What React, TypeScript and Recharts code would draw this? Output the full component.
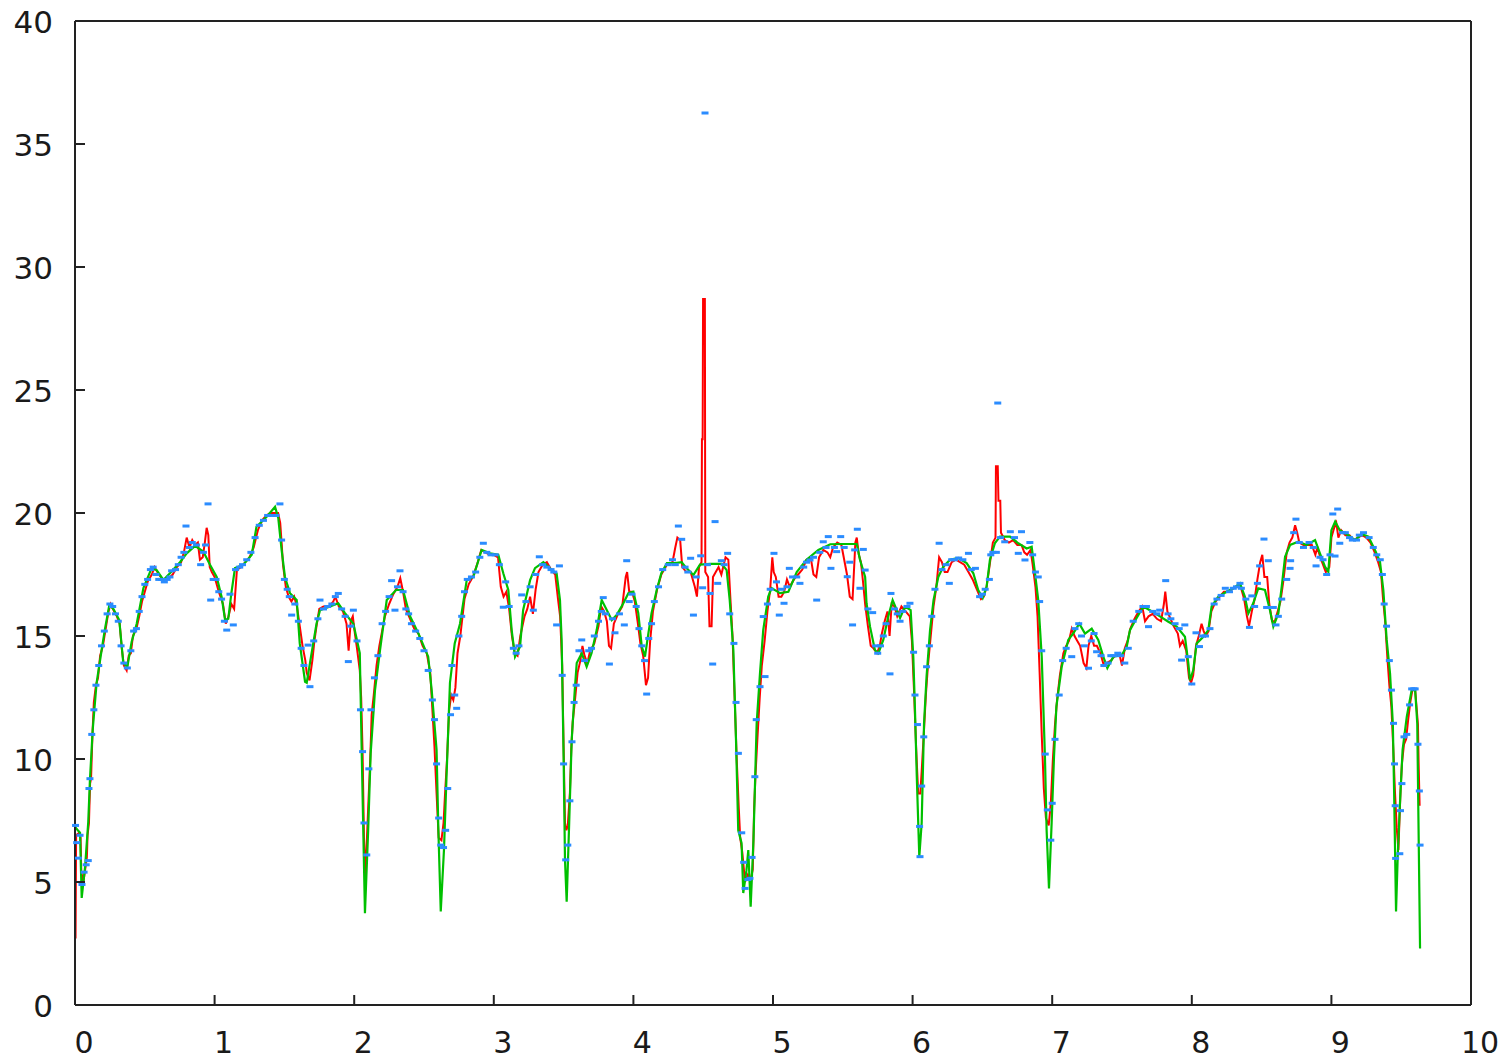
import React from 'react';
import { ComposedChart, Line, Scatter, XAxis, YAxis } from 'recharts';

// [x, y] samples
const red: [number, number][] = [
  [0, 7.3], [0.004, 2.7], [0.008, 6.9], [0.03, 7.0], [0.04, 6.8], [0.045, 5.4], [0.06, 5.0], [0.075, 5.6], [0.085, 6.0], [0.09, 6.9],
  [0.1, 7.4], [0.108, 9.0], [0.115, 9.2], [0.125, 11.0], [0.135, 12.3], [0.15, 13.0], [0.165, 13.3], [0.18, 14.2], [0.2, 14.6], [0.22, 15.3],
  [0.24, 16.0], [0.255, 16.3], [0.28, 16.0], [0.3, 15.8], [0.32, 15.5], [0.335, 14.5], [0.35, 13.8], [0.37, 13.6], [0.385, 14.2], [0.4, 14.3],
  [0.415, 15.0], [0.44, 15.3], [0.46, 15.8], [0.48, 16.4], [0.5, 16.8], [0.52, 17.2], [0.55, 17.5], [0.57, 17.8], [0.6, 17.5], [0.63, 17.3],
  [0.66, 17.3], [0.7, 17.5], [0.73, 17.8], [0.76, 18.0], [0.78, 18.4], [0.8, 19.0], [0.82, 18.6], [0.84, 18.9], [0.86, 18.7], [0.88, 18.8],
  [0.895, 18.1], [0.915, 18.2], [0.93, 18.8], [0.943, 19.4], [0.955, 19.1], [0.965, 17.8], [0.98, 17.6], [1.0, 17.4], [1.03, 16.8], [1.06, 16.3],
  [1.08, 15.5], [1.1, 15.8], [1.12, 16.3], [1.14, 16.1], [1.16, 17.7], [1.19, 17.8], [1.22, 18.0], [1.25, 18.2], [1.28, 18.6], [1.31, 19.3],
  [1.34, 19.7], [1.37, 19.9], [1.4, 20.0], [1.43, 20.0], [1.455, 20.0], [1.47, 19.6], [1.48, 18.8], [1.49, 17.9], [1.51, 17.0], [1.53, 16.6],
  [1.55, 16.4], [1.57, 16.6], [1.59, 16.2], [1.61, 15.4], [1.63, 14.6], [1.65, 14.0], [1.66, 13.5], [1.68, 13.2], [1.7, 14.0], [1.715, 14.8],
  [1.73, 15.4], [1.75, 16.1], [1.78, 16.2], [1.82, 16.2], [1.85, 16.4], [1.865, 16.6], [1.89, 16.2], [1.92, 16.0], [1.945, 15.5], [1.96, 14.4],
  [1.975, 15.6], [1.99, 15.8], [2.005, 15.1], [2.02, 14.5], [2.04, 13.6], [2.05, 12.5], [2.06, 10.3], [2.07, 6.8], [2.08, 5.2], [2.09, 6.6],
  [2.1, 8.0], [2.115, 10.0], [2.125, 11.8], [2.14, 12.6], [2.16, 13.8], [2.18, 14.6], [2.2, 15.2], [2.22, 15.8], [2.25, 16.3], [2.28, 16.7],
  [2.31, 17.0], [2.33, 17.35], [2.35, 16.8], [2.37, 16.1], [2.4, 15.7], [2.43, 15.3], [2.46, 15.1], [2.49, 14.6], [2.52, 14.3], [2.545, 13.5],
  [2.56, 12.0], [2.575, 10.5], [2.59, 8.6], [2.605, 6.8], [2.625, 6.7], [2.64, 7.4], [2.65, 8.5], [2.665, 10.0], [2.68, 12.0], [2.695, 12.6],
  [2.71, 12.4], [2.725, 12.9], [2.74, 14.3], [2.76, 15.0], [2.79, 16.5], [2.82, 17.1], [2.85, 17.4], [2.88, 17.9], [2.91, 18.5], [2.94, 18.4],
  [2.97, 18.3], [3.0, 18.3], [3.03, 18.2], [3.05, 17.0], [3.07, 16.6], [3.09, 16.8], [3.11, 16.1], [3.13, 15.0], [3.15, 14.3], [3.17, 14.2],
  [3.19, 15.0], [3.22, 15.8], [3.24, 16.1], [3.26, 16.6], [3.28, 15.9], [3.3, 16.9], [3.32, 17.6], [3.35, 17.9], [3.38, 18.0], [3.41, 17.7],
  [3.44, 17.5], [3.46, 16.5], [3.475, 15.8], [3.49, 13.8], [3.5, 10.5], [3.51, 7.4], [3.52, 7.1], [3.53, 7.3], [3.545, 8.6], [3.555, 10.4],
  [3.565, 11.5], [3.58, 12.3], [3.6, 13.5], [3.62, 14.0], [3.635, 14.6], [3.65, 14.2], [3.67, 13.9], [3.69, 14.4], [3.72, 14.7], [3.75, 15.4],
  [3.77, 16.2], [3.79, 16.0], [3.81, 15.6], [3.825, 14.6], [3.84, 14.5], [3.86, 15.5], [3.89, 15.9], [3.92, 16.2], [3.945, 17.4], [3.955, 17.6],
  [3.97, 16.8], [3.99, 16.8], [4.01, 16.4], [4.03, 15.6], [4.05, 14.7], [4.07, 14.2], [4.09, 13.0], [4.105, 13.3], [4.12, 14.8], [4.14, 16.0],
  [4.17, 16.9], [4.2, 17.5], [4.24, 17.9], [4.28, 18.0], [4.3, 18.6], [4.315, 19.0], [4.335, 18.9], [4.35, 17.8], [4.38, 17.6], [4.41, 17.6],
  [4.44, 17.0], [4.455, 16.6], [4.47, 17.8], [4.488, 18.0], [4.491, 23.0], [4.496, 23.0], [4.499, 28.7], [4.512, 28.7], [4.515, 17.6], [4.535, 17.4],
  [4.545, 15.4], [4.56, 15.4], [4.57, 17.4], [4.59, 17.6], [4.61, 17.8], [4.63, 17.5], [4.66, 18.2], [4.68, 18.1], [4.695, 16.5], [4.71, 15.0],
  [4.725, 12.5], [4.74, 10.0], [4.755, 8.0], [4.765, 6.8], [4.78, 6.2], [4.8, 5.0], [4.82, 5.3], [4.84, 5.1], [4.855, 5.5], [4.865, 8.0],
  [4.875, 9.4], [4.89, 11.0], [4.905, 12.5], [4.92, 13.8], [4.94, 14.8], [4.96, 16.0], [4.98, 16.9], [4.995, 18.2], [5.005, 17.6], [5.02, 17.4],
  [5.04, 16.6], [5.06, 16.6], [5.08, 16.8], [5.1, 17.3], [5.12, 17.0], [5.15, 17.3], [5.18, 17.5], [5.21, 17.7], [5.24, 18.1], [5.27, 18.2],
  [5.29, 17.5], [5.31, 17.4], [5.33, 18.2], [5.36, 18.5], [5.39, 18.4], [5.41, 18.2], [5.43, 18.6], [5.46, 18.8], [5.49, 18.7], [5.51, 18.1],
  [5.53, 17.5], [5.55, 16.6], [5.57, 16.5], [5.59, 18.8], [5.6, 19.0], [5.615, 18.3], [5.63, 18.0], [5.645, 17.2], [5.66, 16.3], [5.68, 15.4],
  [5.7, 14.6], [5.72, 14.5], [5.745, 14.3], [5.765, 14.6], [5.78, 15.1], [5.8, 15.6], [5.82, 16.0], [5.835, 15.0], [5.85, 16.3], [5.87, 16.2],
  [5.89, 15.8], [5.92, 16.2], [5.95, 16.0], [5.98, 15.8], [5.995, 14.8], [6.01, 12.8], [6.025, 10.5], [6.04, 8.6], [6.055, 8.6], [6.065, 9.5],
  [6.08, 11.0], [6.095, 12.6], [6.11, 13.8], [6.13, 15.0], [6.15, 16.2], [6.17, 17.0], [6.19, 18.2], [6.21, 18.0], [6.23, 17.6], [6.25, 17.6],
  [6.28, 18.0], [6.31, 18.1], [6.34, 18.0], [6.37, 17.9], [6.4, 17.6], [6.43, 17.3], [6.46, 16.9], [6.49, 16.5], [6.51, 16.6], [6.53, 17.0],
  [6.555, 18.0], [6.575, 18.8], [6.594, 19.0], [6.597, 21.9], [6.61, 21.9], [6.615, 20.5], [6.628, 20.5], [6.633, 19.2], [6.66, 18.9], [6.69, 18.8], [6.72, 18.9],
  [6.75, 18.7], [6.78, 18.7], [6.8, 18.4], [6.82, 18.3], [6.845, 18.5], [6.86, 17.9], [6.88, 17.0], [6.895, 15.8], [6.91, 13.5], [6.925, 11.0],
  [6.94, 8.8], [6.955, 7.6], [6.975, 7.3], [6.99, 8.2], [7.005, 10.0], [7.02, 11.4], [7.035, 12.4], [7.055, 13.4], [7.08, 14.3], [7.1, 14.6],
  [7.12, 14.8], [7.14, 15.3], [7.16, 15.0], [7.18, 14.8], [7.2, 14.6], [7.225, 13.9], [7.245, 13.7], [7.26, 14.6], [7.28, 15.0], [7.3, 14.6],
  [7.32, 14.6], [7.345, 14.3], [7.37, 13.8], [7.39, 13.9], [7.42, 14.0], [7.45, 14.2], [7.48, 14.3], [7.5, 13.8], [7.52, 14.5], [7.54, 14.8],
  [7.56, 15.3], [7.59, 15.7], [7.62, 16.0], [7.645, 16.2], [7.665, 15.6], [7.69, 15.8], [7.72, 15.9], [7.75, 15.7], [7.78, 15.6], [7.8, 16.3],
  [7.81, 16.8], [7.825, 16.0], [7.84, 15.8], [7.87, 15.4], [7.9, 15.1], [7.915, 14.6], [7.935, 14.8], [7.96, 14.4], [7.98, 13.3], [7.995, 13.1],
  [8.01, 13.4], [8.03, 14.6], [8.05, 15.0], [8.07, 15.5], [8.085, 15.2], [8.1, 15.0], [8.12, 15.2], [8.14, 16.0], [8.17, 16.4], [8.2, 16.6],
  [8.23, 16.8], [8.26, 16.8], [8.29, 16.9], [8.32, 17.0], [8.35, 17.0], [8.375, 16.5], [8.395, 15.8], [8.41, 15.4], [8.43, 16.0], [8.45, 16.5],
  [8.47, 17.3], [8.49, 18.0], [8.505, 18.3], [8.52, 17.4], [8.54, 17.4], [8.555, 16.3], [8.575, 15.6], [8.595, 15.6], [8.615, 16.0], [8.635, 16.4],
  [8.655, 17.2], [8.68, 18.4], [8.7, 18.8], [8.72, 19.0], [8.74, 19.5], [8.755, 19.2], [8.77, 18.8], [8.8, 18.7], [8.83, 18.7], [8.86, 18.7],
  [8.885, 18.3], [8.9, 18.6], [8.92, 18.2], [8.94, 17.9], [8.96, 17.6], [8.985, 17.8], [9.0, 19.0], [9.02, 19.4], [9.035, 19.6], [9.05, 19.0],
  [9.07, 19.3], [9.1, 19.1], [9.13, 19.1], [9.16, 18.9], [9.19, 19.0], [9.22, 19.1], [9.25, 19.0], [9.28, 18.8], [9.31, 18.4], [9.335, 18.0],
  [9.355, 17.6], [9.37, 16.5], [9.385, 15.6], [9.4, 14.2], [9.415, 13.0], [9.43, 12.1], [9.445, 10.2], [9.455, 8.7], [9.468, 7.2], [9.48, 6.3],
  [9.495, 8.7], [9.505, 9.8], [9.52, 10.6], [9.535, 10.8], [9.55, 11.6], [9.565, 12.3], [9.58, 12.8], [9.6, 12.8], [9.61, 12.1], [9.62, 11.4],
  [9.625, 9.8], [9.632, 8.1],
];

const green: [number, number][] = [
  [0, 7.25], [0.02, 7.1], [0.036, 7.0], [0.048, 4.35], [0.072, 5.6], [0.095, 7.45], [0.107, 9.15], [0.127, 11.2], [0.143, 12.3], [0.155, 13.1],
  [0.19, 14.4], [0.215, 15.3], [0.246, 16.26], [0.275, 16.1], [0.317, 15.65], [0.346, 13.9], [0.375, 13.75], [0.406, 14.77], [0.442, 15.5], [0.49, 16.95],
  [0.549, 17.76], [0.585, 17.68], [0.633, 17.28], [0.68, 17.55], [0.752, 18.0], [0.8, 18.36], [0.86, 18.66], [0.919, 18.43], [0.967, 17.9], [1.015, 17.4],
  [1.05, 16.6], [1.075, 15.65], [1.098, 15.7], [1.12, 16.73], [1.146, 17.76], [1.206, 17.9], [1.266, 18.3], [1.3, 19.44], [1.373, 19.85], [1.433, 20.25],
  [1.456, 19.8], [1.48, 18.5], [1.504, 17.4], [1.54, 16.74], [1.588, 16.46], [1.61, 14.7], [1.648, 13.14], [1.66, 13.1], [1.683, 13.9], [1.73, 15.5],
  [1.755, 16.05], [1.827, 16.2], [1.886, 16.33], [1.934, 15.93], [1.994, 15.5], [2.04, 14.3], [2.054, 10.24], [2.077, 3.73], [2.1, 7.1], [2.118, 10.24],
  [2.149, 12.8], [2.185, 14.43], [2.233, 16.46], [2.3, 16.87], [2.35, 16.87], [2.4, 15.8], [2.46, 15.1], [2.53, 14.16], [2.555, 12.8], [2.59, 10.37],
  [2.603, 7.1], [2.62, 3.8], [2.643, 6.3], [2.663, 9.55], [2.686, 13.1], [2.72, 14.7], [2.758, 15.5], [2.806, 17.27], [2.853, 17.4], [2.913, 18.5],
  [2.973, 18.36], [3.032, 18.3], [3.068, 17.55], [3.104, 16.87], [3.128, 15.24], [3.152, 14.16], [3.188, 14.57], [3.21, 16.05], [3.26, 17.27], [3.295, 17.76],
  [3.355, 18.0], [3.415, 17.68], [3.45, 17.55], [3.474, 16.46], [3.486, 14.84], [3.5, 10.1], [3.51, 5.9], [3.522, 4.2], [3.54, 7.4], [3.558, 10.77],
  [3.58, 12.8], [3.594, 13.9], [3.63, 14.3], [3.665, 13.75], [3.7, 14.3], [3.737, 15.24], [3.773, 16.46], [3.81, 16.05], [3.845, 15.65], [3.88, 15.85],
  [3.928, 16.33], [3.964, 16.74], [4.0, 16.8], [4.035, 15.93], [4.06, 14.57], [4.083, 14.16], [4.107, 15.1], [4.13, 15.93], [4.167, 16.87], [4.2, 17.55],
  [4.24, 17.96], [4.298, 17.96], [4.346, 18.0], [4.38, 17.76], [4.43, 17.48], [4.477, 17.9], [4.549, 17.93], [4.633, 17.93], [4.668, 17.68], [4.69, 16.46],
  [4.716, 14.43], [4.735, 10.77], [4.751, 7.1], [4.775, 6.58], [4.787, 4.55], [4.81, 5.48], [4.823, 6.3], [4.84, 4.0], [4.86, 6.7], [4.883, 11.45],
  [4.907, 13.5], [4.93, 15.24], [4.966, 16.6], [4.99, 16.95], [5.05, 16.74], [5.11, 16.8], [5.17, 17.6], [5.24, 18.1], [5.325, 18.5], [5.41, 18.73],
  [5.5, 18.74], [5.6, 18.74], [5.623, 18.1], [5.66, 17.4], [5.67, 16.33], [5.695, 15.38], [5.73, 14.43], [5.755, 14.3], [5.79, 14.84], [5.826, 15.8],
  [5.857, 16.46], [5.91, 15.73], [5.946, 16.2], [5.986, 16.05], [6.005, 14.16], [6.017, 12.0], [6.03, 9.28], [6.048, 6.03], [6.065, 7.4], [6.082, 11.45],
  [6.1, 13.35], [6.125, 15.24], [6.15, 16.46], [6.184, 17.4], [6.22, 17.82], [6.268, 18.1], [6.327, 18.17], [6.387, 17.96], [6.435, 17.55], [6.47, 16.87],
  [6.502, 16.54], [6.53, 17.0], [6.554, 18.1], [6.59, 18.78], [6.626, 19.04], [6.65, 19.04], [6.698, 19.04], [6.757, 18.77], [6.817, 18.56], [6.853, 18.63],
  [6.877, 17.55], [6.9, 16.46], [6.925, 14.16], [6.948, 10.1], [6.96, 7.1], [6.977, 4.74], [6.996, 7.4], [7.013, 10.1], [7.03, 12.13], [7.068, 13.75],
  [7.115, 14.84], [7.15, 15.1], [7.194, 15.5], [7.235, 15.1], [7.283, 15.3], [7.33, 14.84], [7.366, 14.16], [7.395, 13.7], [7.438, 14.16], [7.498, 14.23],
  [7.534, 14.57], [7.557, 15.24], [7.605, 15.73], [7.653, 16.2], [7.7, 16.05], [7.772, 15.8], [7.832, 15.58], [7.892, 15.38], [7.951, 14.97], [7.975, 13.9],
  [7.987, 13.2], [8.01, 13.6], [8.035, 14.7], [8.083, 14.97], [8.118, 15.24], [8.142, 16.2], [8.19, 16.6], [8.25, 16.8], [8.297, 16.94], [8.345, 17.14],
  [8.38, 16.6], [8.405, 15.92], [8.44, 16.33], [8.476, 16.94], [8.524, 16.87], [8.56, 16.05], [8.584, 15.38], [8.62, 15.92], [8.644, 17.0], [8.668, 18.22],
  [8.704, 18.7], [8.763, 18.83], [8.823, 18.7], [8.883, 18.9], [8.918, 18.36], [8.954, 17.82], [8.978, 17.61], [9.0, 19.3], [9.027, 19.65], [9.06, 19.3],
  [9.12, 19.1], [9.17, 18.9], [9.217, 19.15], [9.265, 19.04], [9.312, 18.5], [9.348, 18.02], [9.372, 16.87], [9.396, 14.84], [9.42, 13.48], [9.44, 11.45],
  [9.449, 8.74], [9.463, 3.8], [9.475, 6.03], [9.49, 8.06], [9.51, 10.37], [9.54, 11.72], [9.575, 12.8], [9.6, 12.8], [9.615, 11.45], [9.635, 2.3],
];

const blue: [number, number][] = [
  [0.004, 7.3], [0.012, 6.6], [0.024, 5.97], [0.036, 6.9], [0.05, 4.9], [0.065, 5.4], [0.08, 5.7], [0.095, 5.87], [0.1, 8.8], [0.107, 9.2],
  [0.12, 11.0], [0.135, 12.0], [0.15, 13.0], [0.17, 13.8], [0.19, 14.6], [0.21, 15.2], [0.23, 15.9], [0.25, 16.3], [0.27, 16.2], [0.29, 15.9],
  [0.31, 15.6], [0.33, 14.6], [0.35, 13.9], [0.375, 13.7], [0.4, 14.4], [0.42, 15.2], [0.44, 15.3], [0.46, 16.0], [0.48, 16.6], [0.5, 17.1],
  [0.52, 17.3], [0.54, 17.7], [0.56, 17.8], [0.58, 17.5], [0.6, 17.3], [0.62, 17.3], [0.64, 17.2], [0.66, 17.3], [0.68, 17.4], [0.692, 17.65],
  [0.72, 17.7], [0.74, 17.9], [0.76, 18.2], [0.78, 18.4], [0.795, 19.47], [0.82, 18.6], [0.84, 18.8], [0.87, 18.7], [0.9, 17.9], [0.92, 18.4],
  [0.935, 18.7], [0.953, 20.37], [0.972, 16.46], [0.99, 17.3], [1.01, 17.3], [1.03, 16.8], [1.05, 16.5], [1.07, 15.6], [1.087, 15.24], [1.11, 16.7],
  [1.134, 15.45], [1.15, 17.7], [1.18, 17.8], [1.2, 17.9], [1.23, 18.1], [1.26, 18.4], [1.29, 19.0], [1.32, 19.5], [1.35, 19.7], [1.38, 19.9],
  [1.41, 19.9], [1.44, 19.9], [1.468, 20.37], [1.48, 18.9], [1.5, 17.3], [1.52, 16.9], [1.535, 16.6], [1.552, 15.85], [1.575, 16.3], [1.6, 15.6],
  [1.62, 14.5], [1.64, 13.8], [1.67, 14.63], [1.683, 12.94], [1.71, 14.8], [1.74, 15.7], [1.755, 16.46], [1.78, 16.1], [1.81, 16.2], [1.84, 16.3],
  [1.865, 16.6], [1.886, 16.73], [1.91, 16.1], [1.935, 15.8], [1.958, 13.96], [1.975, 15.4], [1.994, 16.05], [2.02, 14.8], [2.045, 12.0], [2.06, 10.3],
  [2.07, 7.4], [2.09, 6.1], [2.105, 9.6], [2.12, 12.0], [2.145, 13.3], [2.17, 14.2], [2.2, 15.5], [2.225, 16.0], [2.25, 16.6], [2.268, 17.25],
  [2.292, 16.05], [2.31, 17.0], [2.328, 17.65], [2.35, 16.8], [2.37, 16.1], [2.39, 15.9], [2.41, 15.5], [2.44, 15.2], [2.47, 14.9], [2.5, 14.4],
  [2.53, 13.6], [2.56, 12.4], [2.575, 11.6], [2.59, 9.8], [2.605, 7.6], [2.62, 6.5], [2.64, 6.4], [2.655, 7.1], [2.67, 8.8], [2.69, 11.8],
  [2.7, 13.8], [2.72, 12.6], [2.734, 12.06], [2.75, 15.0], [2.77, 15.8], [2.79, 16.8], [2.81, 17.3], [2.84, 17.4], [2.87, 17.6], [2.9, 18.2],
  [2.925, 18.77], [2.95, 18.4], [2.98, 18.3], [3.01, 18.3], [3.04, 17.9], [3.068, 16.17], [3.085, 17.2], [3.11, 16.2], [3.14, 14.5], [3.16, 14.3],
  [3.18, 14.6], [3.2, 16.67], [3.23, 16.4], [3.26, 17.0], [3.283, 16.05], [3.3, 17.5], [3.326, 18.22], [3.35, 17.9], [3.38, 17.8], [3.41, 17.7],
  [3.43, 17.6], [3.45, 15.45], [3.47, 17.85], [3.49, 13.4], [3.5, 9.8], [3.515, 5.9], [3.53, 6.5], [3.545, 8.3], [3.56, 10.7], [3.575, 12.3],
  [3.59, 13.0], [3.61, 14.4], [3.63, 14.84], [3.65, 14.0], [3.68, 14.4], [3.7, 14.5], [3.72, 15.0], [3.75, 15.6], [3.77, 16.0], [3.784, 16.56],
  [3.8, 15.9], [3.828, 13.86], [3.85, 15.7], [3.868, 15.13], [3.9, 15.9], [3.935, 15.45], [3.952, 18.06], [3.97, 16.4], [3.99, 16.7], [4.02, 16.2],
  [4.04, 15.3], [4.06, 14.6], [4.08, 14.0], [4.095, 12.64], [4.11, 14.9], [4.13, 15.5], [4.15, 16.4], [4.18, 17.0], [4.21, 17.7], [4.25, 17.9],
  [4.28, 18.1], [4.3, 17.9], [4.322, 19.47], [4.346, 18.93], [4.37, 17.8], [4.39, 17.6], [4.41, 18.16], [4.43, 15.85], [4.45, 17.4], [4.482, 18.26],
  [4.496, 16.96], [4.513, 36.26], [4.53, 17.9], [4.549, 16.73], [4.568, 13.86], [4.585, 19.65], [4.604, 17.14], [4.63, 18.06], [4.65, 17.9], [4.675, 18.36],
  [4.69, 15.9], [4.72, 14.7], [4.735, 12.3], [4.752, 10.23], [4.776, 7.0], [4.79, 5.8], [4.8, 4.74], [4.82, 5.1], [4.835, 5.15], [4.85, 6.0],
  [4.87, 9.28], [4.88, 11.6], [4.907, 12.94], [4.93, 15.79], [4.943, 13.35], [4.96, 16.3], [4.98, 16.9], [5.007, 18.36], [5.025, 17.2], [5.045, 15.85],
  [5.06, 16.9], [5.079, 16.33], [5.1, 17.0], [5.117, 17.75], [5.14, 17.4], [5.17, 17.4], [5.193, 17.14], [5.22, 17.8], [5.24, 18.0], [5.265, 18.09],
  [5.29, 18.2], [5.313, 16.46], [5.335, 18.4], [5.36, 18.83], [5.38, 18.6], [5.396, 19.04], [5.415, 17.75], [5.44, 18.6], [5.456, 18.43], [5.485, 19.04],
  [5.51, 18.6], [5.532, 17.41], [5.55, 18.0], [5.57, 15.45], [5.585, 18.5], [5.604, 19.34], [5.623, 16.94], [5.647, 18.52], [5.66, 17.68], [5.68, 16.1],
  [5.714, 15.95], [5.735, 14.6], [5.75, 14.3], [5.77, 14.6], [5.79, 15.0], [5.81, 15.5], [5.838, 13.46], [5.845, 16.73], [5.87, 16.1], [5.89, 15.9],
  [5.91, 15.6], [5.93, 16.0], [5.96, 16.2], [5.981, 16.33], [6.007, 14.34], [6.017, 12.6], [6.035, 11.4], [6.05, 7.26], [6.053, 6.03], [6.065, 8.9],
  [6.08, 10.9], [6.1, 13.75], [6.12, 14.6], [6.137, 15.8], [6.16, 16.9], [6.19, 18.77], [6.21, 17.7], [6.24, 17.9], [6.263, 17.14], [6.28, 18.1],
  [6.3, 18.1], [6.33, 18.17], [6.36, 18.1], [6.4, 18.36], [6.42, 17.7], [6.45, 17.75], [6.48, 16.6], [6.5, 16.7], [6.52, 16.9], [6.55, 17.3],
  [6.56, 18.3], [6.575, 18.4], [6.6, 18.4], [6.61, 24.47], [6.63, 19.0], [6.66, 18.83], [6.7, 19.24], [6.73, 19.0], [6.757, 18.36], [6.78, 19.24],
  [6.805, 18.09], [6.84, 18.8], [6.86, 18.3], [6.88, 17.6], [6.9, 17.4], [6.91, 16.4], [6.925, 14.4], [6.95, 10.2], [6.965, 7.93], [6.99, 6.7],
  [7.0, 8.2], [7.02, 10.8], [7.05, 12.6], [7.075, 14.0], [7.1, 14.5], [7.14, 14.16], [7.163, 15.3], [7.19, 15.5], [7.21, 15.0], [7.23, 14.6],
  [7.26, 13.69], [7.28, 14.8], [7.3, 15.1], [7.318, 14.36], [7.35, 14.2], [7.37, 13.8], [7.4, 13.9], [7.42, 14.2], [7.44, 14.2], [7.47, 14.3],
  [7.49, 14.2], [7.52, 13.9], [7.545, 14.5], [7.58, 15.6], [7.62, 16.0], [7.65, 16.2], [7.675, 16.2], [7.69, 15.38], [7.72, 16.0], [7.75, 15.9],
  [7.77, 16.05], [7.813, 17.25], [7.83, 15.9], [7.85, 15.7], [7.88, 15.5], [7.91, 15.3], [7.927, 14.02], [7.95, 15.45], [7.975, 14.16], [8.0, 13.05],
  [8.03, 15.13], [8.055, 14.57], [8.075, 15.0], [8.098, 15.0], [8.13, 15.3], [8.16, 16.3], [8.18, 16.5], [8.21, 16.65], [8.24, 16.94], [8.27, 16.8],
  [8.297, 16.94], [8.32, 17.0], [8.345, 17.14], [8.355, 16.94], [8.387, 16.5], [8.413, 15.35], [8.43, 16.63], [8.45, 16.2], [8.47, 17.14], [8.486, 17.85],
  [8.517, 18.94], [8.536, 16.16], [8.548, 18.06], [8.584, 16.16], [8.603, 15.45], [8.62, 15.8], [8.644, 16.5], [8.68, 17.3], [8.704, 17.75], [8.708, 18.06],
  [8.73, 19.2], [8.746, 19.75], [8.77, 18.8], [8.8, 18.6], [8.84, 18.8], [8.87, 18.6], [8.89, 17.85], [8.918, 18.2], [8.94, 18.1], [8.966, 17.5],
  [8.99, 18.3], [9.01, 19.96], [9.026, 18.25], [9.045, 20.16], [9.06, 18.77], [9.08, 19.2], [9.1, 19.2], [9.13, 19.0], [9.15, 18.9], [9.18, 18.9],
  [9.2, 19.1], [9.23, 19.2], [9.27, 19.0], [9.3, 18.6], [9.325, 18.3], [9.35, 18.1], [9.365, 17.5], [9.378, 16.3], [9.395, 15.4], [9.415, 14.0],
  [9.43, 12.8], [9.445, 11.45], [9.452, 9.8], [9.457, 8.1], [9.46, 5.96], [9.49, 6.15], [9.495, 7.9], [9.505, 9.0], [9.52, 10.9], [9.54, 11.0],
  [9.56, 12.2], [9.575, 12.85], [9.59, 12.85], [9.6, 12.85], [9.62, 10.6], [9.63, 8.7], [9.635, 6.5],
];

const xTicks = [0, 1, 2, 3, 4, 5, 6, 7, 8, 9, 10];
const yTicks = [0, 5, 10, 15, 20, 25, 30, 35, 40];

const AXIS = '#222';
const FONT = '"DejaVu Sans", sans-serif';

const toPts = (arr: [number, number][]) => arr.map(([x, y]) => ({ x, y }));

const BottomTick = ({ x, y, payload }: any) => (
  <g>
    <line x1={x} y1={y} x2={x} y2={y - 10} stroke={AXIS} strokeWidth={2} />
    <text x={x + 9} y={y + 48} textAnchor="middle" fontFamily={FONT} fontSize={30} fill="#1a1a1a">
      {payload.value}
    </text>
  </g>
);

const TopTick = ({ x, y }: any) => (
  <line x1={x} y1={y} x2={x} y2={y + 10} stroke={AXIS} strokeWidth={2} />
);

const LeftTick = ({ x, y, payload }: any) => (
  <g>
    <line x1={x} y1={y} x2={x + 10} y2={y} stroke={AXIS} strokeWidth={2} />
    <text x={x - 22} y={y + 12} textAnchor="end" fontFamily={FONT} fontSize={31} fill="#1a1a1a">
      {payload.value}
    </text>
  </g>
);

const RightTick = ({ x, y }: any) => (
  <line x1={x} y1={y} x2={x - 10} y2={y} stroke={AXIS} strokeWidth={2} />
);

const Dash = (props: any) => (
  <rect x={props.cx - 3.5} y={props.cy - 1.5} width={7} height={3} fill="#2b8cff" />
);

export default function App() {
  return (
    <div style={{ position: 'absolute', left: 0, top: 0, background: '#fff' }}>
      <ComposedChart width={1509} height={1061} margin={{ top: 0, right: 0, bottom: 0, left: 0 }}>
        <XAxis
          xAxisId={0}
          type="number"
          dataKey="x"
          domain={[0, 10]}
          ticks={xTicks}
          interval={0}
          height={56}
          tickSize={0}
          tickMargin={0}
          tickLine={false}
          axisLine={{ stroke: AXIS, strokeWidth: 2 }}
          tick={<BottomTick />}
        />
        <XAxis
          xAxisId="top"
          orientation="top"
          type="number"
          dataKey="x"
          domain={[0, 10]}
          ticks={xTicks}
          interval={0}
          height={21}
          tickSize={0}
          tickMargin={0}
          tickLine={false}
          axisLine={{ stroke: AXIS, strokeWidth: 2 }}
          tick={<TopTick />}
        />
        <YAxis
          yAxisId={0}
          type="number"
          dataKey="y"
          domain={[0, 40]}
          ticks={yTicks}
          interval={0}
          width={75}
          tickSize={0}
          tickMargin={0}
          tickLine={false}
          axisLine={{ stroke: AXIS, strokeWidth: 2 }}
          tick={<LeftTick />}
        />
        <YAxis
          yAxisId="right"
          orientation="right"
          type="number"
          dataKey="y"
          domain={[0, 40]}
          ticks={yTicks}
          interval={0}
          width={38}
          tickSize={0}
          tickMargin={0}
          tickLine={false}
          axisLine={{ stroke: AXIS, strokeWidth: 2 }}
          tick={<RightTick />}
        />
        <Line
          data={toPts(red)}
          dataKey="y"
          type="linear"
          stroke="#ff0000"
          strokeWidth={2}
          dot={false}
          activeDot={false}
          isAnimationActive={false}
        />
        <Line
          data={toPts(green)}
          dataKey="y"
          type="linear"
          stroke="#00c000"
          strokeWidth={2.2}
          dot={false}
          activeDot={false}
          isAnimationActive={false}
        />
        <Scatter data={toPts(blue)} dataKey="y" shape={<Dash />} isAnimationActive={false} />
      </ComposedChart>
    </div>
  );
}
